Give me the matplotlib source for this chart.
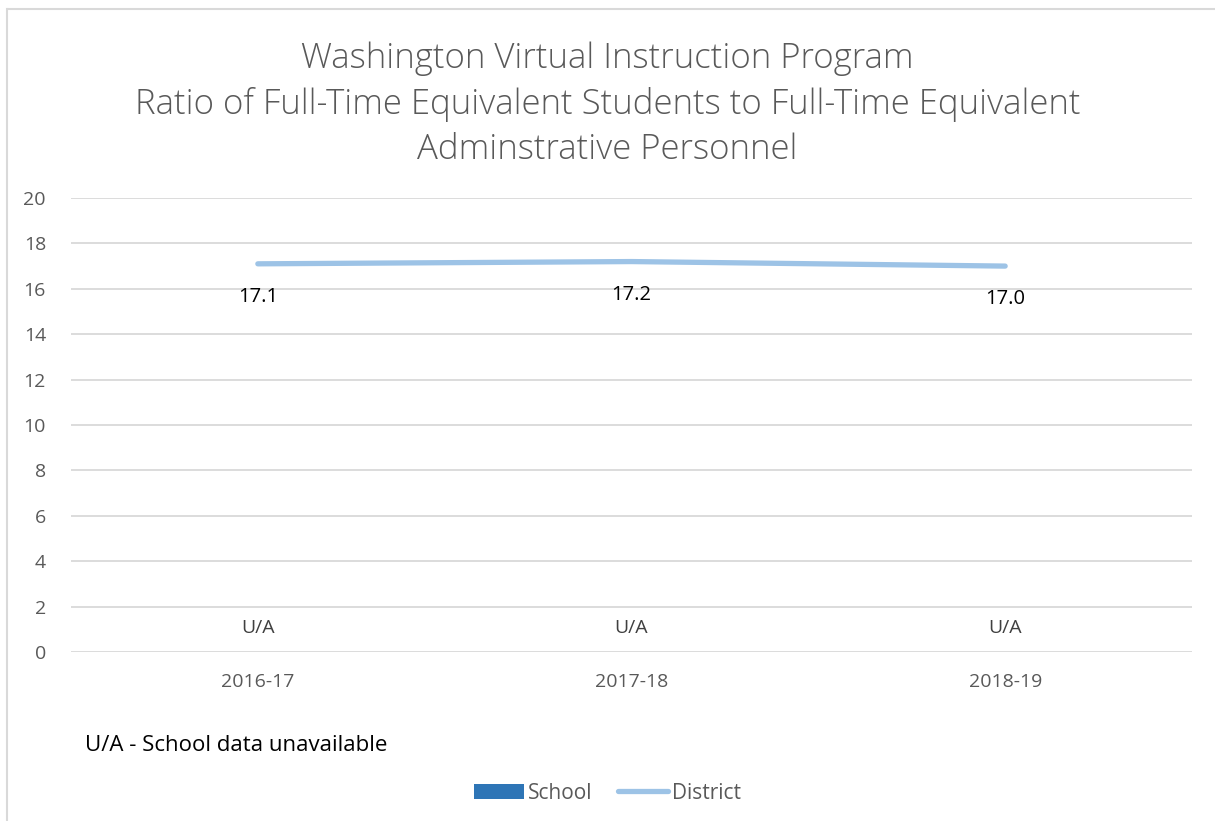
import numpy as np
import matplotlib
matplotlib.use("Agg")
import matplotlib.pyplot as plt
from matplotlib.patches import Patch
from matplotlib.lines import Line2D

years = ["2016-17", "2017-18", "2018-19"]
district = [17.1, 17.2, 17.0]
school = [0, 0, 0]
school_labels = ["U/A", "U/A", "U/A"]
title = ("Washington Virtual Instruction Program\n"
         "Ratio of Full-Time Equivalent Students to Full-Time Equivalent\n"
         "Adminstrative Personnel")
note = "U/A - School data unavailable"

plt.rcParams["font.family"] = ["Open Sans", "DejaVu Sans"]

W, H = 1215, 821
fig = plt.figure(figsize=(W / 100, H / 100), dpi=100)

# outer chart border (top and left visible)
fig.add_artist(Line2D([8 / W, 1.0], [1 - 9 / H, 1 - 9 / H], color="#d9d9d9", lw=1.5))
fig.add_artist(Line2D([7 / W, 7 / W], [0, 1 - 9 / H], color="#d9d9d9", lw=1.5))

ax = fig.add_axes([71 / W, 1 - 652 / H, (1192 - 71) / W, (652 - 198) / H])
x = np.arange(len(years))

ax.bar(x, school, width=0.5, color="#2E75B6")
ax.plot(x, district, color="#9DC3E6", lw=3.8, solid_capstyle="round")

for xi, v in zip(x, district):
    ax.annotate(f"{v:.1f}", (xi, v), xytext=(0, -24), textcoords="offset points",
                ha="center", va="center", fontsize=14.5, color="black")
for xi, lab in zip(x, school_labels):
    ax.text(xi, 1.05, lab, ha="center", va="center", fontsize=14, color="#404040")

ax.set_xlim(-0.5, len(years) - 0.5)
ax.set_ylim(0, 20)
ax.set_yticks(range(0, 21, 2))
ax.set_xticks(x)
ax.set_xticklabels(years)
ax.tick_params(axis="both", length=0, labelsize=14, labelcolor="#595959")
ax.tick_params(axis="y", pad=18)
ax.tick_params(axis="x", pad=15)
ax.grid(axis="y", color="#d9d9d9", lw=1.3)
ax.set_axisbelow(True)
for s in ax.spines.values():
    s.set_visible(False)

fig.text(0.5, 1 - 104 / H, title, ha="center", va="center", fontsize=25,
         color="#595959", linespacing=1.4, fontweight="light")
fig.text(85 / W, 1 - 745 / H, note, ha="left", va="center", fontsize=16, color="black")

handles = [Patch(facecolor="#2E75B6", label="School"),
           Line2D([0], [0], color="#9DC3E6", lw=3.8, solid_capstyle="round", label="District")]
fig.legend(handles=handles, loc="center", bbox_to_anchor=(0.5, 1 - 793 / H), ncol=2,
           frameon=False, fontsize=15, labelcolor="#595959", handlelength=2.4,
           handleheight=0.7, handletextpad=0.2, columnspacing=1.2)

fig.savefig("out.png", dpi=100)
